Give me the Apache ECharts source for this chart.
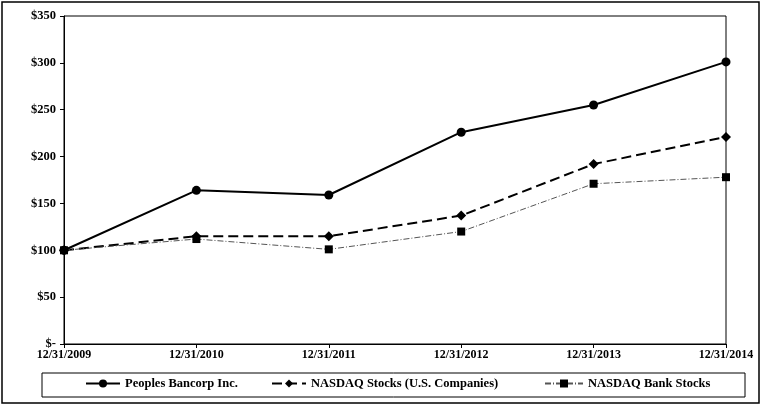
<!DOCTYPE html>
<html>
<head>
<meta charset="utf-8">
<script src="https://cdn.jsdelivr.net/npm/echarts@6/dist/echarts.min.js"></script>
<style>
    html, body { margin: 0; padding: 0; background: #fff; }
    #box { width: 761px; height: 406px; }
</style>
</head>
<body>
<div id="box"></div>
<script>
// x 轴日期
var years = ['12/31/2009', '12/31/2010', '12/31/2011', '12/31/2012', '12/31/2013', '12/31/2014'];
// 三条线的数据
var peoples = [100, 164, 159, 226, 255, 301];
var nasdaqStocks = [100, 115, 115, 137, 192, 221];
var nasdaqBank = [100, 112, 101, 120, 171, 178];
// y 轴刻度
var yTicks = [0, 50, 100, 150, 200, 250, 300, 350];

var font = 'Liberation Serif, Times New Roman, serif';

var myChart = echarts.init(document.getElementById('box'), null, { renderer: 'canvas' });

// 图例 公共样式
function legendAt(name, left, iconWidth) {
    return {
        data: [name],
        left: left,
        top: 377,
        itemWidth: iconWidth,
        itemHeight: 10,
        padding: 0,
        selectedMode: false,
        textStyle: { fontFamily: font, fontWeight: 'bold', fontSize: 12.5, color: '#000' }
    };
}

var option = {
    animation: false,
    backgroundColor: '#fff',
    grid: {
        left: 64, top: 16, right: 35, bottom: 62,
        show: true, borderColor: '#000', borderWidth: 1
    },
    legend: [
        legendAt('Peoples Bancorp Inc.', 85, 34),
        legendAt('NASDAQ Stocks (U.S. Companies)', 271, 34),
        legendAt('NASDAQ Bank Stocks', 544, 38)
    ],
    graphic: [
        // 外边框
        { type: 'rect', shape: { x: 2, y: 2, width: 757, height: 401 },
          style: { fill: null, stroke: '#000', lineWidth: 1.5 }, silent: true },
        // 图例边框
        { type: 'rect', shape: { x: 42, y: 373, width: 703, height: 24 },
          style: { fill: null, stroke: '#000', lineWidth: 1 }, silent: true }
    ],
    xAxis: {
        type: 'category',
        data: years,
        boundaryGap: false,
        axisLine: { lineStyle: { color: '#000', width: 1 } },
        axisTick: { show: true, length: 4, lineStyle: { color: '#000' } },
        axisLabel: { color: '#000', fontFamily: font, fontWeight: 'bold', fontSize: 12, margin: 5 },
        splitLine: { show: false }
    },
    yAxis: {
        type: 'value',
        min: yTicks[0],
        max: yTicks[yTicks.length - 1],
        interval: 50,
        axisLine: { show: true, lineStyle: { color: '#000', width: 1 } },
        axisTick: { show: true, length: 4, lineStyle: { color: '#000' } },
        axisLabel: {
            color: '#000', fontFamily: font, fontWeight: 'bold', fontSize: 12.5, margin: 8,
            formatter: function (v) { return v === 0 ? '$-' : '$' + v; }
        },
        splitLine: { show: false }
    },
    series: [
        {
            name: 'Peoples Bancorp Inc.',
            type: 'line',
            data: peoples,
            symbol: 'circle',
            symbolSize: 9,
            lineStyle: { color: '#000', width: 2 },
            itemStyle: { color: '#000' }
        },
        {
            name: 'NASDAQ Stocks (U.S. Companies)',
            type: 'line',
            data: nasdaqStocks,
            symbol: 'diamond',
            symbolSize: 10,
            lineStyle: { color: '#000', width: 2, type: [10, 5] },
            itemStyle: { color: '#000' }
        },
        {
            name: 'NASDAQ Bank Stocks',
            type: 'line',
            data: nasdaqBank,
            symbol: 'rect',
            symbolSize: 8,
            lineStyle: { color: '#555', width: 1, type: [6, 2, 1, 2] },
            itemStyle: { color: '#000' }
        }
    ]
};

myChart.setOption(option);
</script>
</body>
</html>
